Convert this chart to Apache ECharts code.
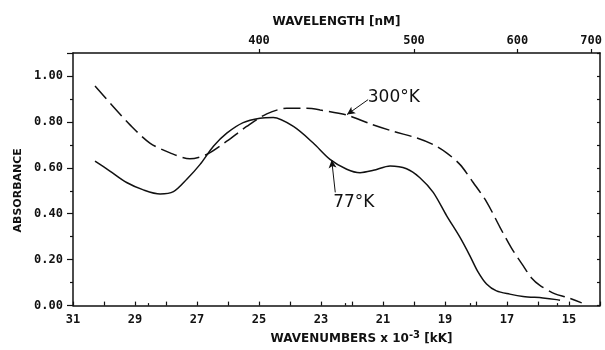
<!DOCTYPE html>
<html>
<head>
<meta charset="utf-8">
<script src="https://cdn.jsdelivr.net/npm/echarts@6/dist/echarts.min.js"></script>
<style>
  html, body { margin: 0; padding: 0; background: #fff; }
  #chart { width: 605px; height: 350px; }
</style>
</head>
<body>
<div id="chart"></div>
<script>
// wavenumber (kK) and absorbance
const k300 = [30.29, 29.75, 29.16, 28.52, 27.87, 27.23, 26.69, 26.04, 25.40, 24.75, 24.11, 23.46, 23.03, 22.17, 21.42, 20.67, 19.91, 19.38, 18.95, 18.52, 18.09, 17.65, 17.23, 16.85, 16.47, 16.20, 15.94, 15.45, 15.07, 14.59];
const a300 = [0.956, 0.874, 0.787, 0.708, 0.665, 0.639, 0.658, 0.716, 0.780, 0.835, 0.859, 0.859, 0.852, 0.830, 0.792, 0.759, 0.730, 0.701, 0.665, 0.615, 0.536, 0.450, 0.342, 0.249, 0.172, 0.119, 0.088, 0.051, 0.036, 0.012];

const k77 = [30.29, 29.81, 29.27, 28.73, 28.19, 27.76, 27.33, 26.90, 26.47, 26.04, 25.51, 24.97, 24.54, 23.89, 23.25, 22.71, 22.17, 21.74, 21.31, 20.77, 20.24, 19.81, 19.38, 18.95, 18.52, 18.20, 17.94, 17.66, 17.34, 16.91, 16.48, 15.84, 15.40, 15.29];
const a77 = [0.629, 0.586, 0.536, 0.504, 0.486, 0.496, 0.550, 0.615, 0.694, 0.751, 0.797, 0.816, 0.819, 0.780, 0.708, 0.637, 0.594, 0.579, 0.589, 0.608, 0.596, 0.557, 0.493, 0.392, 0.298, 0.218, 0.148, 0.094, 0.064, 0.050, 0.040, 0.033, 0.026, 0.023];

// top axis: wavelength in nm, placed at 1e4 / nm kK
const nmMajor = [400, 500, 600, 700];
const nmMinor = [350, 450, 550, 650];

const ink = '#111';
const mono = 'DejaVu Sans Mono';
const sans = 'DejaVu Sans';

const toPairs = (xs, ys) => xs.map((x, i) => [x, ys[i]]);
const toK = nm => 1e4 / nm;

const chart = echarts.init(document.getElementById('chart'), null, { renderer: 'canvas' });

const topBase = {
  type: 'value', position: 'top', min: 14, max: 31, inverse: true,
  splitLine: { show: false },
  axisLine: { show: false },
};

const option = {
  backgroundColor: '#fff',
  animation: false,
  grid: { left: 73, right: 5, top: 53, bottom: 39 },
  xAxis: [
    {
      type: 'value', position: 'bottom', min: 14, max: 31, inverse: true, interval: 1,
      name: 'WAVENUMBERS x 10{sup|-3} [kK]',
      nameLocation: 'middle', nameGap: 20,
      nameTextStyle: {
        color: ink, fontFamily: sans, fontWeight: 'bold', fontSize: 12,
        padding: [0, 0, 0, 50],
        rich: { sup: { fontFamily: sans, fontWeight: 'bold', fontSize: 10, padding: [0, 0, 7, 0], color: ink } }
      },
      axisLine: { lineStyle: { color: ink, width: 1.5 } },
      axisTick: { inside: true, length: 4, lineStyle: { color: ink, width: 1.2 } },
      axisLabel: {
        color: ink, fontFamily: mono, fontWeight: 'bold', fontSize: 12, margin: 8,
        formatter: v => (Math.round(v) % 2 === 1 ? String(v) : '')
      },
      splitLine: { show: false },
    },
    Object.assign({}, topBase, {
      name: 'WAVELENGTH [nM]',
      nameLocation: 'middle', nameGap: 25,
      nameTextStyle: { color: ink, fontFamily: sans, fontWeight: 'bold', fontSize: 12 },
      axisLine: { show: true, onZero: false, lineStyle: { color: ink, width: 1.5 } },
      axisTick: { show: true, inside: false, length: 4, customValues: nmMajor.map(toK), lineStyle: { color: ink, width: 1.2 } },
      axisLabel: {
        show: true, color: ink, fontFamily: mono, fontWeight: 'bold', fontSize: 12, margin: 6,
        customValues: nmMajor.map(toK),
        formatter: v => String(Math.round(1e4 / v))
      },
    }),
    Object.assign({}, topBase, {
      axisTick: { show: true, inside: false, length: 2.5, customValues: nmMinor.map(toK), lineStyle: { color: ink, width: 1.2 } },
      axisLabel: { show: false },
    }),
  ],
  yAxis: [
    {
      type: 'value', position: 'left', min: 0, max: 1.1, interval: 0.2,
      name: 'ABSORBANCE', nameLocation: 'middle', nameGap: 48, nameRotate: 90,
      nameTextStyle: { color: ink, fontFamily: sans, fontWeight: 'bold', fontSize: 11, padding: [0, 22, 0, 0] },
      axisLine: { show: true, lineStyle: { color: ink, width: 1.5 } },
      axisTick: { show: true, length: 6, lineStyle: { color: ink, width: 1.2 } },
      minorTick: { show: true, splitNumber: 2, length: 3, lineStyle: { color: ink, width: 1.2 } },
      axisLabel: {
        color: ink, fontFamily: mono, fontWeight: 'bold', fontSize: 12, margin: 10,
        showMaxLabel: false,
        formatter: v => v.toFixed(2)
      },
      splitLine: { show: false },
    },
    {
      type: 'value', position: 'right', min: 0, max: 1.1, interval: 0.1,
      axisLine: { show: true, lineStyle: { color: ink, width: 1.5 } },
      axisTick: { show: true, inside: true, length: 3, lineStyle: { color: ink, width: 1.2 } },
      axisLabel: { show: false },
      splitLine: { show: false },
    },
  ],
  series: [
    {
      name: '300°K', type: 'line', xAxisIndex: 0, yAxisIndex: 0,
      data: toPairs(k300, a300), smooth: 0.3, showSymbol: false,
      lineStyle: { color: ink, width: 1.5, type: [17, 6] },
      markLine: {
        silent: true, symbol: ['none', 'arrow'], symbolSize: [6, 8],
        lineStyle: { color: ink, width: 1, type: 'solid' },
        label: { show: false },
        data: [[{ coord: [21.48, 0.897] }, { coord: [22.16, 0.832] }]]
      },
      markPoint: {
        silent: true, symbolSize: 0,
        label: { show: true, position: 'inside', color: ink, fontFamily: sans, fontSize: 17, formatter: '300°K' },
        data: [{ coord: [20.65, 0.905] }]
      }
    },
    {
      name: '77°K', type: 'line', xAxisIndex: 0, yAxisIndex: 0,
      data: toPairs(k77, a77), smooth: 0.3, showSymbol: false,
      lineStyle: { color: ink, width: 1.5 },
      markLine: {
        silent: true, symbol: ['none', 'arrow'], symbolSize: [6, 8],
        lineStyle: { color: ink, width: 1, type: 'solid' },
        label: { show: false },
        data: [[{ coord: [22.54, 0.493] }, { coord: [22.655, 0.634] }]]
      },
      markPoint: {
        silent: true, symbolSize: 0,
        label: { show: true, position: 'inside', color: ink, fontFamily: sans, fontSize: 17, formatter: '77°K' },
        data: [{ coord: [21.94, 0.450] }]
      }
    },
  ],
};

chart.setOption(option);
</script>
</body>
</html>
